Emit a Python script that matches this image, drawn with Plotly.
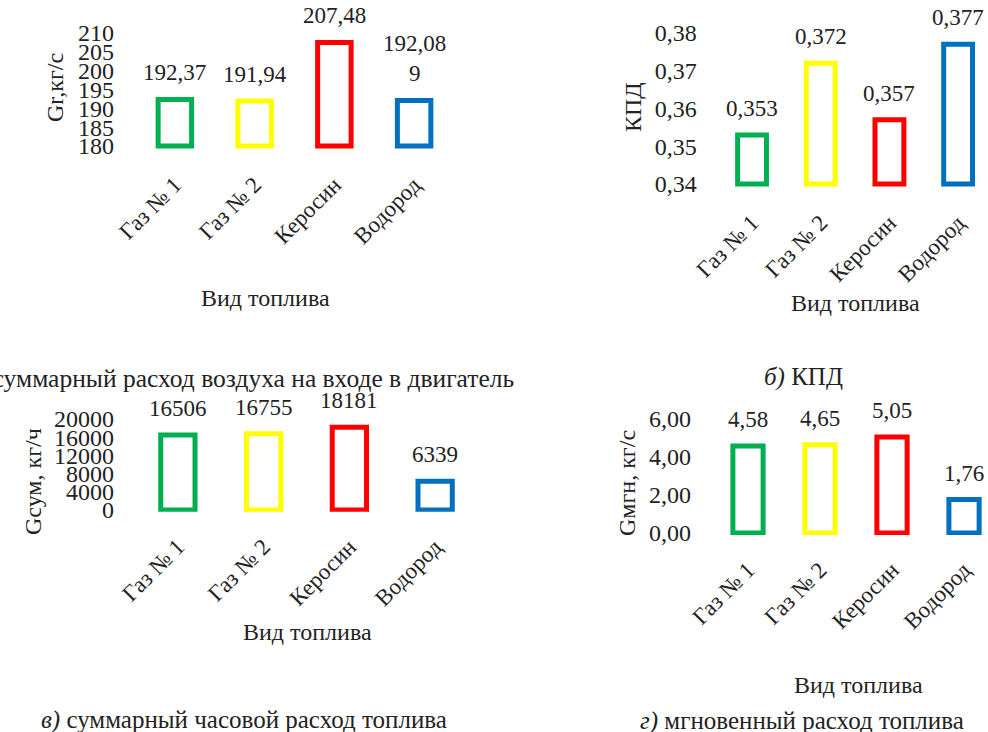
import plotly.graph_objects as go

W, H = 988, 732

categories = ['Газ № 1', 'Газ № 2', 'Керосин', 'Водород']
colors = ['#00B050', '#FFFF00', '#FF0000', '#0070C0']

air_flow = [192.37, 191.94, 207.48, 192.089]      # а) Gr, кг/с
efficiency = [0.353, 0.372, 0.357, 0.377]         # б) КПД
fuel_hourly = [16506, 16755, 18181, 6339]         # в) Gсум, кг/ч
fuel_instant = [4.58, 4.65, 5.05, 1.76]           # г) Gмгн, кг/с

FONT = 'Liberation Serif'


def px_x(a, b):
    return [a / W, b / W]


def px_y(top, bottom):
    return [1 - bottom / H, 1 - top / H]


def fmt(v, nd=None):
    s = f'{v:.{nd}f}' if nd is not None else f'{v}'
    s = s.replace('.', ',')
    if len(s) > 6:
        s = s[:6] + '<br>' + s[6:]
    return s


panels = [
    dict(y=air_flow, base=180, lab=[fmt(v) for v in air_flow],
         xd=px_x(135, 454), yd=px_y(29.2, 149.8), xr=[-0.5, 3.5], yr=[179, 211],
         tick0=180, dtick=5, tf='d', bw=0.42),
    dict(y=efficiency, base=0.34, lab=[fmt(v) for v in efficiency],
         xd=px_x(717.7, 988), yd=px_y(29.2, 187.8), xr=[-0.5, 3.435], yr=[0.339, 0.381],
         tick0=0.34, dtick=0.01, tf='.2f', bw=0.42),
    dict(y=fuel_hourly, base=0, lab=[fmt(v) for v in fuel_hourly],
         xd=px_x(135, 478), yd=px_y(417.2, 511.8), xr=[-0.5, 3.5], yr=[-400, 20400],
         tick0=0, dtick=4000, tf='d', bw=0.40),
    dict(y=fuel_instant, base=0, lab=[fmt(v, 2) for v in fuel_instant],
         xd=px_x(712, 988), yd=px_y(417.1, 534.9), xr=[-0.5, 3.333], yr=[-0.1, 6.1],
         tick0=0, dtick=2, tf='.2f', bw=0.42),
]

fig = go.Figure()
annotations = []
layout = {}

for i, p in enumerate(panels):
    n = '' if i == 0 else str(i + 1)
    fig.add_trace(go.Bar(
        x=categories,
        y=[v - p['base'] for v in p['y']],
        base=p['base'],
        width=p['bw'],
        marker=dict(color='rgba(255,255,255,0)', line=dict(color=colors, width=5)),
        xaxis='x' + n,
        yaxis='y' + n,
        showlegend=False
    ))
    layout['xaxis' + n] = dict(
        domain=p['xd'], range=p['xr'], anchor='y' + n, automargin=False,
        showgrid=False, showline=False, zeroline=False, ticks='',
        tickangle=-45, ticklabelstandoff=16,
        tickfont=dict(family=FONT, size=23, color='#222')
    )
    layout['yaxis' + n] = dict(
        domain=p['yd'], range=p['yr'], anchor='x' + n, automargin=False,
        showgrid=False, showline=False, zeroline=False, ticks='',
        tickmode='linear', tick0=p['tick0'], dtick=p['dtick'], tickformat=p['tf'],
        ticklabelstandoff=20,
        tickfont=dict(family=FONT, size=24, color='#222')
    )
    for c, v, t in zip(categories, p['y'], p['lab']):
        annotations.append(dict(
            x=c, y=v, xref='x' + n, yref='y' + n, text=t, showarrow=False,
            yanchor='bottom', yshift=12,
            font=dict(family=FONT, size=23, color='#222')
        ))

txt = dict(family=FONT, size=24, color='#222')

# подписи осей
for x, y, t, ang in [
    (55, 88, 'Gr,кг/с', -90),
    (633, 107, 'КПД', -90),
    (33, 482, 'Gсум, кг/ч', -90),
    (627, 483, 'Gмгн, кг/с', -90),
    (265, 298, 'Вид топлива', 0),
    (855, 303, 'Вид топлива', 0),
    (307, 632, 'Вид топлива', 0),
    (858, 685, 'Вид топлива', 0),
]:
    annotations.append(dict(
        x=x / W, y=1 - y / H, xref='paper', yref='paper', text=t, textangle=ang,
        showarrow=False, xanchor='center', yanchor='middle', font=txt
    ))

# подписи рисунков (первая обрезана слева, как на исходном рисунке)
annotations.append(dict(
    x=516 / W, y=1 - 378 / H, xref='paper', yref='paper',
    text='<i>а)</i> суммарный расход воздуха на входе в двигатель',
    showarrow=False, xanchor='right', yanchor='middle',
    font=dict(family=FONT, size=25.5, color='#222')
))
cap = dict(family=FONT, size=25, color='#222')
for x, y, t in [
    (803, 377, '<i>б)</i> КПД'),
    (244, 720, '<i>в)</i> суммарный часовой расход топлива'),
    (802, 721, '<i>г)</i> мгновенный расход топлива'),
]:
    annotations.append(dict(
        x=x / W, y=1 - y / H, xref='paper', yref='paper', text=t,
        showarrow=False, xanchor='center', yanchor='middle', font=cap
    ))

fig.update_layout(
    **layout,
    annotations=annotations,
    separators=', ',
    width=W, height=H,
    margin=dict(l=0, r=0, t=0, b=0),
    paper_bgcolor='white',
    plot_bgcolor='white',
    font=dict(family=FONT, color='#222')
)

fig.write_html('out.html', config={'displayModeBar': False},
               post_script="document.body.style.margin='0';")
